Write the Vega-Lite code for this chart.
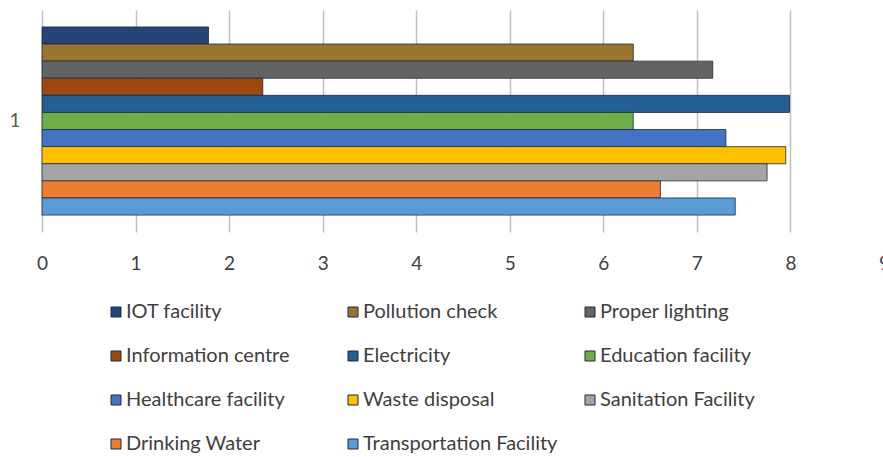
{
  "$schema": "https://vega.github.io/schema/vega-lite/v6.json",
  "width": 842,
  "height": 222,
  "autosize": {"type": "none"},
  "padding": {"left": 42, "top": 10, "right": 0, "bottom": 225},
  "background": "white",
  "config": {
    "font": "Lato",
    "view": {"stroke": null}
  },
  "data": {
    "values": [
      {"cat": "1", "item": "IOT facility", "value": 1.78},
      {"cat": "1", "item": "Pollution check", "value": 6.32},
      {"cat": "1", "item": "Proper lighting", "value": 7.17},
      {"cat": "1", "item": "Information centre", "value": 2.36},
      {"cat": "1", "item": "Electricity", "value": 7.99},
      {"cat": "1", "item": "Education facility", "value": 6.32},
      {"cat": "1", "item": "Healthcare facility", "value": 7.31},
      {"cat": "1", "item": "Waste disposal", "value": 7.95},
      {"cat": "1", "item": "Sanitation Facility", "value": 7.75},
      {"cat": "1", "item": "Drinking Water", "value": 6.61},
      {"cat": "1", "item": "Transportation Facility", "value": 7.41}
    ]
  },
  "mark": {"type": "bar", "stroke": "#1c2a44", "strokeWidth": 1, "strokeOpacity": 0.8},
  "encoding": {
    "y": {
      "field": "cat",
      "type": "nominal",
      "scale": {"paddingInner": 0, "paddingOuter": 0.09},
      "axis": {
        "title": null,
        "domain": false,
        "ticks": false,
        "labelFontSize": 19,
        "labelColor": "#595959",
        "labelPadding": 22,
        "labelAngle": 0
      }
    },
    "yOffset": {
      "field": "item",
      "type": "nominal",
      "sort": ["IOT facility", "Pollution check", "Proper lighting", "Information centre", "Electricity", "Education facility", "Healthcare facility", "Waste disposal", "Sanitation Facility", "Drinking Water", "Transportation Facility"],
      "scale": {"paddingInner": 0, "paddingOuter": 0}
    },
    "x": {
      "field": "value",
      "type": "quantitative",
      "scale": {"domain": [0, 9], "nice": false, "zero": true},
      "axis": {
        "title": null,
        "values": [0, 1, 2, 3, 4, 5, 6, 7, 8, 9],
        "grid": true,
        "gridColor": "#c0c0c0",
        "gridWidth": 1.5,
        "domain": false,
        "ticks": false,
        "labelFontSize": 19,
        "labelColor": "#404040",
        "labelPadding": 22,
        "labelFlush": false
      }
    },
    "color": {
      "field": "item",
      "type": "nominal",
      "sort": ["IOT facility", "Pollution check", "Proper lighting", "Information centre", "Electricity", "Education facility", "Healthcare facility", "Waste disposal", "Sanitation Facility", "Drinking Water", "Transportation Facility"],
      "scale": {
        "domain": ["IOT facility", "Pollution check", "Proper lighting", "Information centre", "Electricity", "Education facility", "Healthcare facility", "Waste disposal", "Sanitation Facility", "Drinking Water", "Transportation Facility"],
        "range": ["#264478", "#9b7530", "#636363", "#9e480e", "#255e91", "#70ad47", "#4472c4", "#ffc000", "#a5a5a5", "#ed7d31", "#5b9bd5"]
      },
      "legend": {
        "title": null,
        "orient": "none",
        "direction": "horizontal",
        "legendX": 64,
        "legendY": 292,
        "columns": 3,
        "gridAlign": "all",
        "columnPadding": 22,
        "rowPadding": 24,
        "symbolType": "square",
        "symbolSize": 100,
        "symbolStrokeColor": "#1c2a44",
        "symbolStrokeWidth": 1,
        "symbolOffset": 0,
        "labelFontSize": 20,
        "labelColor": "#404040",
        "labelOffset": 0,
        "labelLimit": 300
      }
    }
  }
}
